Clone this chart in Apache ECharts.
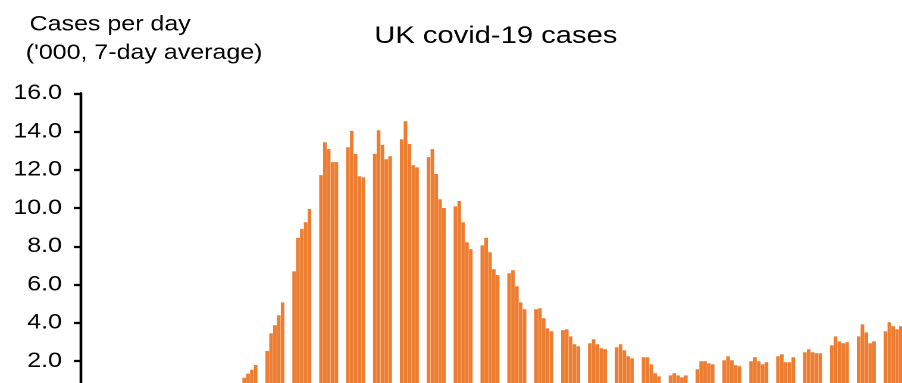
<!DOCTYPE html>
<html>
<head>
<meta charset="utf-8">
<script src="https://cdn.jsdelivr.net/npm/echarts@6/dist/echarts.min.js"></script>
<style>
  html, body { margin: 0; padding: 0; background: #fff; overflow: hidden; }
  #chart { width: 780px; height: 420px; transform: scaleX(1.19); transform-origin: 0 0; }
</style>
</head>
<body>
<div id="chart"></div>
<script>
// ---- data (thousands of cases per day, 7-day average) ----
const chartTitle = 'UK covid-19 cases';
const axisTitleLines = ['Cases per day', "('000, 7-day average)"];
const yTicks = [0, 2, 4, 6, 8, 10, 12, 14, 16];
const leadingEmptyDays = 41;
// one row per week: five weekday values (weekends have no bar)
const weeklyCases = [
  [null, 1.13, 1.34, 1.55, 1.79],
  [2.53, 3.45, 3.87, 4.39, 5.07],
  [6.69, 8.44, 8.91, 9.26, 9.95],
  [11.72, 13.44, 13.08, 12.40, 12.40],
  [13.18, 14.03, 12.83, 11.66, 11.61],
  [12.83, 14.07, 13.30, 12.55, 12.71],
  [13.60, 14.54, 13.35, 12.24, 12.13],
  [12.66, 13.08, 11.78, 10.46, 10.00],
  [10.09, 10.37, 9.26, 8.21, 7.85],
  [8.05, 8.44, 7.69, 6.80, 6.49],
  [6.59, 6.75, 5.91, 5.07, 4.71],
  [4.71, 4.76, 4.24, 3.71, 3.56],
  [3.61, 3.66, 3.29, 2.88, 2.77],
  [2.93, 3.14, 2.88, 2.67, 2.62],
  [2.72, 2.88, 2.56, 2.25, 2.14],
  [2.20, 2.20, 1.83, 1.36, 1.20],
  [1.25, 1.36, 1.25, 1.15, 1.25],
  [1.57, 1.99, 1.99, 1.88, 1.83],
  [2.04, 2.25, 2.04, 1.78, 1.73],
  [1.99, 2.20, 1.99, 1.83, 1.94],
  [2.25, 2.35, 1.94, 1.94, 2.20],
  [2.46, 2.62, 2.46, 2.41, 2.41],
  [2.82, 3.29, 3.03, 2.93, 2.98],
  [3.29, 3.92, 3.50, 2.93, 3.03],
  [3.56, 4.03, 3.82, 3.66, 3.82]
];

// ---- build daily series ----
const dailyCases = [];
for (let i = 0; i < leadingEmptyDays; i++) dailyCases.push(null);
weeklyCases.forEach(function (week) {
  week.forEach(function (v) { dailyCases.push(v); });
  dailyCases.push(null, null);
});
const dayCategories = dailyCases.map(function (_, i) { return 'Day ' + (i + 1); });

const FONT = "'Liberation Sans', Arial, sans-serif";
const SX = 1.19;               // horizontal stretch applied to the page
const dayPitch = 3.84 / SX;    // px per category before stretch
const gridLeft = 81.0 / SX;

const chart = echarts.init(document.getElementById('chart'), null, { renderer: 'canvas', devicePixelRatio: 2 });
chart.setOption({
  animation: false,
  backgroundColor: '#ffffff',
  title: {
    text: chartTitle,
    left: 495.8 / SX,
    top: 23.5,
    textAlign: 'center',
    padding: 0,
    textStyle: { fontFamily: FONT, fontSize: 24.5, fontWeight: 'normal', color: '#000' }
  },
  graphic: [
    { type: 'text', x: 29.6 / SX, y: 24.5, style: { text: axisTitleLines[0], font: '21px ' + FONT, fill: '#000', align: 'left', verticalAlign: 'middle' } },
    { type: 'text', x: 25.7 / SX, y: 53, style: { text: axisTitleLines[1], font: '21px ' + FONT, fill: '#000', align: 'left', verticalAlign: 'middle' } }
  ],
  grid: {
    left: gridLeft,
    top: 93.3,
    width: dayPitch * dailyCases.length,
    height: 306
  },
  xAxis: {
    type: 'category',
    data: dayCategories,
    boundaryGap: true,
    axisLine: { show: true, lineStyle: { color: '#000', width: 2 } },
    axisTick: { show: false },
    axisLabel: { show: false },
    splitLine: { show: false }
  },
  yAxis: {
    type: 'value',
    min: yTicks[0],
    max: yTicks[yTicks.length - 1],
    interval: yTicks[1] - yTicks[0],
    axisLine: { show: true, lineStyle: { color: '#000', width: 2.3 } },
    axisTick: { show: true, length: 6, lineStyle: { color: '#000', width: 2.3 } },
    axisLabel: {
      color: '#000', fontFamily: FONT, fontSize: 21, margin: 16,
      formatter: function (v) { return v.toFixed(1); }
    },
    splitLine: { show: false }
  },
  series: [{
    type: 'bar',
    data: dailyCases,
    barCategoryGap: '6%',
    itemStyle: { color: '#ED7D31' }
  }]
});
</script>
</body>
</html>
